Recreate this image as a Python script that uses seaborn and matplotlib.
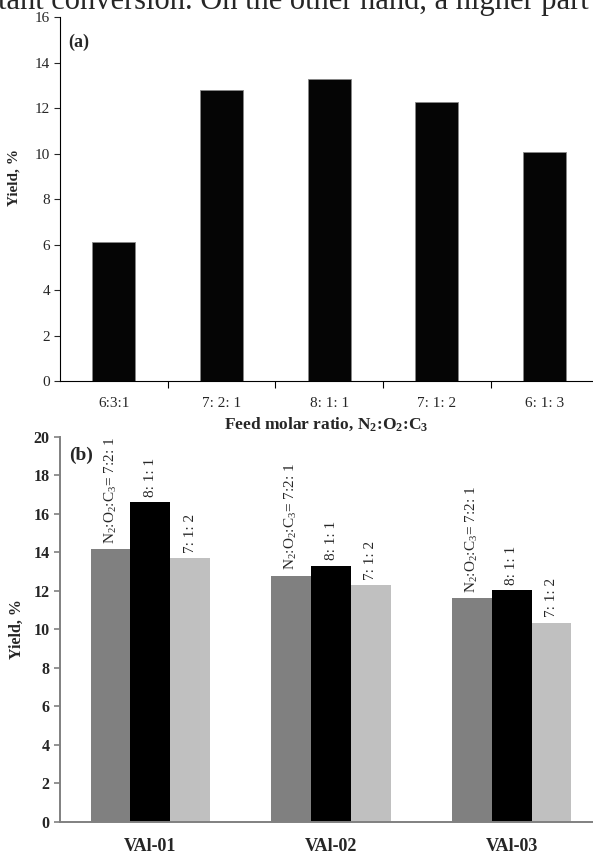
"""Two-panel yield bar chart: (a) feed ratio, (b) catalyst comparison."""

import matplotlib.pyplot as plt
import pandas as pd
import seaborn as sns
from matplotlib.ticker import FixedLocator

# panel (a)
ratio_labels = ["6:3:1", "7: 2: 1", "8: 1: 1", "7: 1: 2", "6: 1: 3"]
ratio_yield = [6.12, 12.78, 13.28, 12.28, 10.06]

# panel (b)
catalysts = ["VAl-01", "VAl-02", "VAl-03"]
feed_levels = ["7:2:1", "8:1:1", "7:1:2"]
feed_texts = [r"N$_2$:O$_2$:C$_3$= 7:2: 1", "8: 1: 1", "7: 1: 2"]
yield_721 = [14.16, 12.77, 11.62]
yield_811 = [16.60, 13.29, 12.02]
yield_712 = [13.70, 12.29, 10.35]
feed_colors = ["#808080", "#000000", "#c0c0c0"]

top_text = "tant conversion. On the other hand, a higher part"

sns.set_style("ticks")
plt.rcParams["font.family"] = ["Liberation Serif", "DejaVu Serif"]
plt.rcParams["mathtext.fontset"] = "custom"
plt.rcParams["mathtext.rm"] = "Liberation Serif"
plt.rcParams["mathtext.it"] = "Liberation Serif:italic"
plt.rcParams["mathtext.bf"] = "Liberation Serif:bold"

W, H = 593, 856
fig = plt.figure(figsize=(W / 100, H / 100), dpi=100)


def box(left, top, right, bottom):
    return [left / W, 1 - bottom / H, (right - left) / W, (bottom - top) / H]


fig.text(-0.003, 1 - 9 / H, top_text, fontsize=22, va="baseline", ha="left")

# ---- (a)
ax_a = fig.add_axes(box(60, 17, 593, 381.5))
df_a = pd.DataFrame({"ratio": ratio_labels, "yield": ratio_yield})
sns.barplot(data=df_a, x="ratio", y="yield", color="#050505", width=0.4,
            edgecolor="#888888", linewidth=0.6, saturation=1, ax=ax_a)
ax_a.set_xlim(-0.5, 4.45)
ax_a.set_ylim(0, 16)
ax_a.set_yticks(range(0, 17, 2))
ax_a.xaxis.set_minor_locator(FixedLocator([0.5, 1.5, 2.5, 3.5, 4.5]))
ax_a.tick_params(axis="x", which="major", length=0, pad=11, labelsize=11)
ax_a.tick_params(axis="x", which="minor", length=5, width=0.8, color="black")
ax_a.tick_params(axis="y", length=4, width=0.8, labelsize=11, pad=3)
sns.despine(ax=ax_a)
for s in ("left", "bottom"):
    ax_a.spines[s].set_color("black")
    ax_a.spines[s].set_linewidth(0.8)
ax_a.set_xlabel("Feed molar ratio, N$_\\mathbf{2}$:O$_\\mathbf{2}$:C$_\\mathbf{3}$",
                fontsize=12.5, fontweight="bold", labelpad=4)
ax_a.set_ylabel("Yield, %", fontsize=11, fontweight="bold")
ax_a.yaxis.set_label_coords(-0.075, 0.56)
ax_a.text(0.016, 0.955, "(a)", transform=ax_a.transAxes, fontsize=13,
          fontweight="bold", va="top")

# ---- (b)
ax_b = fig.add_axes(box(60, 437, 593, 821.5))
df_b = pd.DataFrame({
    "catalyst": catalysts * 3,
    "feed": [f for f in feed_levels for _ in catalysts],
    "yield": yield_721 + yield_811 + yield_712,
})
sns.barplot(data=df_b, x="catalyst", y="yield", hue="feed", hue_order=feed_levels,
            palette=feed_colors, saturation=1, width=0.66, linewidth=0,
            legend=False, ax=ax_b)
for cont, label in zip(ax_b.containers, feed_texts):
    ax_b.bar_label(cont, labels=[label] * len(cont), rotation=90, padding=4,
                   fontsize=11)
ax_b.set_xlim(-0.5, 2.45)
ax_b.set_ylim(0, 20)
ax_b.set_yticks(range(0, 21, 2))
ax_b.tick_params(axis="x", length=0, pad=12, labelsize=13)
ax_b.tick_params(axis="y", length=4, width=1.2, color="#808080", labelsize=11.5)
for lab in ax_b.get_xticklabels() + ax_b.get_yticklabels():
    lab.set_fontweight("bold")
sns.despine(ax=ax_b)
for s in ("left", "bottom"):
    ax_b.spines[s].set_color("#808080")
    ax_b.spines[s].set_linewidth(1.4)
ax_b.set_xlabel("")
ax_b.set_ylabel("Yield, %", fontsize=11.5, fontweight="bold")
ax_b.yaxis.set_label_coords(-0.065, 0.5)
ax_b.text(0.018, 0.975, "(b)", transform=ax_b.transAxes, fontsize=14,
          fontweight="bold", va="top")

fig.savefig("out.png", dpi=100)
